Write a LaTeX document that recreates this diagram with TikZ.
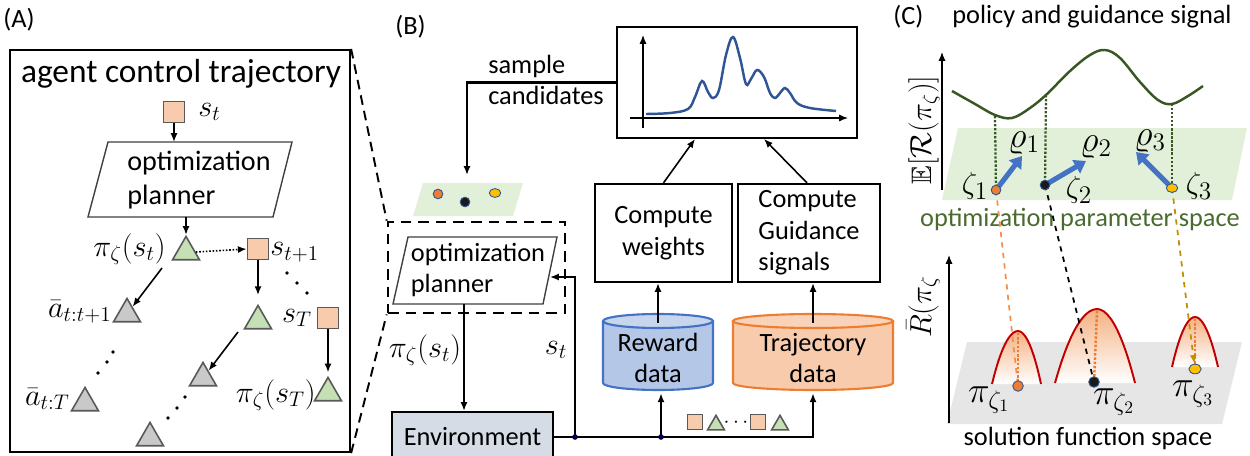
\documentclass[tikz,border=0pt]{standalone}
\usepackage{fontspec}
\usepackage{amssymb}
\setmainfont{Carlito}
\usetikzlibrary{arrows.meta,shapes.geometric,calc}
\definecolor{sqfill}{HTML}{F8CBAD}
\definecolor{sqdraw}{HTML}{595959}
\definecolor{trigreen}{HTML}{C5E0B4}
\definecolor{trigray}{HTML}{C9C9C9}
\definecolor{paramgreen}{HTML}{E2F0D9}
\definecolor{envfill}{HTML}{D6DCE5}
\definecolor{plotblue}{HTML}{2F5597}
\definecolor{rewfill}{HTML}{B4C7E7}
\definecolor{rewdraw}{HTML}{4472C4}
\definecolor{trajfill}{HTML}{F8CBAD}
\definecolor{trajdraw}{HTML}{ED7D31}
\definecolor{darkgreen}{HTML}{385723}
\definecolor{txtgreen}{HTML}{4A6B30}
\definecolor{dotorange}{HTML}{ED7D31}
\definecolor{dotyellow}{HTML}{FFC000}
\definecolor{dotblack}{HTML}{1A1A1A}
\definecolor{arrblue}{HTML}{4472C4}
\definecolor{bellred}{HTML}{C00000}
\definecolor{bellfill}{HTML}{F4B183}
\definecolor{planegray}{HTML}{E7E6E6}
\definecolor{yellowdash}{HTML}{BF9000}
\definecolor{outl}{HTML}{2F5597}
\begin{document}
\begin{tikzpicture}[x=0.02cm,y=-0.02cm,
  >={Latex[length=5pt,width=4pt]},
  every node/.style={inner sep=0pt},
  tB/.style={font=\fontsize{15}{18}\selectfont},
  tA/.style={font=\fontsize{16}{19.8}\selectfont},
  mA/.style={font=\fontsize{17}{20}\selectfont},
  mC/.style={font=\fontsize{19}{20}\selectfont},
  mP/.style={font=\fontsize{20}{22}\selectfont},
  sqA/.style={draw=sqdraw, fill=sqfill, minimum size=12pt, line width=0.9pt},
  sqS/.style={draw=sqdraw, fill=sqfill, minimum size=8.5pt, line width=0.9pt},
  triA/.style={regular polygon, regular polygon sides=3, draw=sqdraw, line width=0.9pt, minimum size=17.7pt},
  triS/.style={regular polygon, regular polygon sides=3, draw=sqdraw, line width=0.9pt, minimum size=11pt, fill=trigreen},
  triG/.style={triA, fill=trigreen},
  triY/.style={triA, fill=trigray},
  conn/.style={line width=0.9pt},
  box/.style={draw, line width=1.3pt},
  pgon/.style={draw=black!75, line width=0.8pt, fill=white},
  dotO/.style={circle, minimum size=5.5pt, fill=dotorange, draw=outl, line width=0.5pt},
  dotK/.style={circle, minimum size=5.5pt, fill=dotblack, draw=outl, line width=0.5pt},
  dotY/.style={ellipse, minimum width=6.5pt, minimum height=5pt, fill=dotyellow, draw=outl, line width=0.5pt},
  sdot/.style={circle, fill=black, minimum size=2.2pt},
  jdot/.style={circle, fill=black!70!blue, minimum size=3.2pt},
  blarrow/.style={draw=arrblue, line width=2.9pt, -{Triangle[length=6.5pt,width=8.5pt]}},
]
\useasboundingbox (0,0) rectangle (1250,456);

% ================= Panel A =================
\node[tB, anchor=west] (labA) at (3,20) {(A)};
\node[box, minimum width=6.8cm, minimum height=8.04cm] (boxA) at (180,251) {};
\node[font=\fontsize{19}{22}\selectfont] (titA) at (181,74) {agent control trajectory};
\node[sqA] (st) at (174,112) {};
\node[mA, anchor=west] (stl) at (198,112) {$s_t$};
\draw[pgon] (108,142) -- (292,142) -- (273,217) -- (88,217) -- cycle;
\node[tA, align=left] (plA) at (199,180) {optimization\\planner};
\coordinate (plAin) at (174,142);
\coordinate (plAout) at (186,217);
\draw[->,conn] (st) -- (plAin);
\node[triG] (a1) at (186,252) {};
\draw[->,conn] (plAout) -- (a1.north);
\node[mA, anchor=east] (pia1) at (166,249) {$\pi_\zeta(s_t)$};
\node[sqA] (st1) at (258,249) {};
\draw[->,densely dotted,conn] (a1.east) -- (st1.west);
\node[mA, anchor=west] (st1l) at (270,252) {$s_{t+1}$};
\node[sdot] (d1) at (287,273) {};
\node[sdot] (d2) at (297,283) {};
\node[sdot] (d3) at (307,293) {};
\node[triY] (g1) at (127,314) {};
\node[mA, anchor=east] (g1l) at (112,312) {$\bar{a}_{t:t+1}$};
\coordinate (g1s) at (162,268);
\draw[->,conn] (g1s) -- (g1);
\node[triG] (a2) at (258,321) {};
\draw[->,conn,shorten >=5pt] (st1) -- (a2);
\node[mA] (sTl) at (297,318) {$s_T$};
\node[sqA] (sT) at (328,318) {};
\node[triG] (aT) at (328,393) {};
\draw[->,conn,shorten >=2pt] (sT) -- (aT);
\node[mA, anchor=east] (aTl) at (316,395) {$\pi_\zeta(s_T)$};
\node[triY] (g2) at (203,378) {};
\coordinate (a2s) at (238,332);
\draw[->,conn] (a2s) -- (g2);
\node[sdot] (d4) at (185,397) {};
\node[sdot] (d5) at (177,408) {};
\node[sdot] (d6) at (168,418) {};
\node[triY] (g3) at (150,438) {};
\node[triY] (g4) at (85,403) {};
\node[mA, anchor=east] (g4l) at (70,399) {$\bar{a}_{t:T}$};
\node[sdot] (d7) at (113,352) {};
\node[sdot] (d8) at (107,362) {};
\node[sdot] (d9) at (98,373) {};

% ================= Panel B =================
\node[tB, anchor=west] (labB) at (395,27) {(B)};
\node[draw, dashed, dash pattern=on 6pt off 4pt, line width=1.5pt, minimum width=3.54cm, minimum height=1.82cm] (dbox) at (476.5,267.5) {};
\draw[dashed, dash pattern=on 5.5pt off 3.5pt, line width=1.1pt] (boxA.north east) -- (dbox.north west);
\draw[dashed, dash pattern=on 5.5pt off 3.5pt, line width=1.1pt] (boxA.south east) -- (dbox.south west);

\node[box, minimum width=4.8cm, minimum height=2.22cm] (plot) at (737,82.5) {};
\coordinate (ax0) at (643,128); \coordinate (ax1) at (643,35);
\coordinate (ay0) at (630,118); \coordinate (ay1) at (848,118);
\draw[->, line width=0.7pt] (ax0) -- (ax1);
\draw[->, line width=0.7pt] (ay0) -- (ay1);
\draw[plotblue, line width=1.4pt] plot[smooth, tension=0.6] coordinates {
 (646,114) (670,113) (688,109) (695,97) (702,81) (708,92) (713,98) (719,90)
 (726,55) (733,37) (740,58) (746,84) (751,79) (757,70) (764,77) (770,93) (775,98)
 (780,93) (785,88) (790,93) (797,103) (810,108) (836,111)};

\node[tB, align=left] (samp) at (546,80) {sample\\candidates};
\coordinate (candin) at (467,175);
\draw[->, line width=1.2pt] (plot.west) -| (candin);
\fill[paramgreen] (423,183) -- (523,183) -- (513,216) -- (413,216) -- cycle;
\node[dotO] (c1) at (438,194) {};
\node[dotK] (c2) at (465,202) {};
\node[dotY] (c3) at (495,193) {};

\draw[pgon] (408,237) -- (557,237) -- (543,304) -- (393,304) -- cycle;
\node[tB, align=left] (plB) at (478,270) {optimization\\planner};
\coordinate (plBout) at (464,304);
\coordinate (plBin) at (550,277);
\node[draw, line width=1.3pt, fill=envfill, minimum width=3.22cm, minimum height=1.0cm, tB] (env) at (472.5,437) {Environment};
\draw[->, conn] (plBout) -- (plBout |- env.north);
\node[font=\fontsize{18}{20}\selectfont] (piB) at (425,350) {$\pi_\zeta(s_t)$};
\node[font=\fontsize{18}{20}\selectfont] (stB) at (556,350) {$s_t$};

% cylinders
\fill[rewfill] (603,321) rectangle (713,383);
\fill[rewfill] (658,383) ellipse [x radius=1.1cm, y radius=0.14cm];
\draw[rewdraw, line width=1.2pt] (603,321) -- (603,383) arc[start angle=180, end angle=360, x radius=1.1cm, y radius=0.14cm] -- (713,321);
\draw[rewdraw, fill=rewfill!75!white, line width=1.2pt] (658,321) ellipse [x radius=1.1cm, y radius=0.14cm];
\fill[trajfill] (733,321) rectangle (893,383);
\fill[trajfill] (813,383) ellipse [x radius=1.6cm, y radius=0.14cm];
\draw[trajdraw, line width=1.2pt] (733,321) -- (733,383) arc[start angle=180, end angle=360, x radius=1.6cm, y radius=0.14cm] -- (893,321);
\draw[trajdraw, fill=trajfill!85!white, line width=1.2pt] (813,321) ellipse [x radius=1.6cm, y radius=0.14cm];
\node[tB, align=center, minimum width=2.2cm, minimum height=1.4cm] (rew) at (658,358) {Reward\\data};
\node[tB, align=center, minimum width=3.2cm, minimum height=1.4cm] (traj) at (813,358) {Trajectory\\data};

\node[box, tB, align=center, minimum width=2.74cm, minimum height=1.96cm] (cw) at (663.5,233) {Compute\\weights};
\node[box, tB, align=left, minimum width=2.84cm, minimum height=1.96cm] (cg) at (809,233) {Compute\\Guidance\\signals};
\draw[->, conn] (rew.north) -- (rew.north |- cw.south);
\draw[->, conn] (traj.north) -- (traj.north |- cg.south);
\coordinate (pin1) at (695,139);
\coordinate (pin2) at (764,139);
\draw[->, conn] (cw.north) -- (pin1);
\draw[->, conn] ($(cg.north)+(-2,0)$) -- (pin2);

\coordinate (j1) at (575,437);
\coordinate (j2) at (661,437);
\draw[->, conn] (env.east) -| (traj.south);
\draw[->, conn] (j1) |- (plBin);
\draw[->, conn] (j2) -- (j2 |- rew.south);
\node[jdot] at (j1) {};
\node[jdot] at (j2) {};

\node[sqS] (i1) at (695,422) {};
\node[triS] (i2) at (716,425) {};
\node[font=\fontsize{12}{12}\selectfont] (i3) at (736,423) {$\cdots$};
\node[sqS] (i4) at (758,422) {};
\node[triS] (i5) at (780,425) {};

% ================= Panel C =================
\node[tB, anchor=west] (labC) at (893,17) {(C)};
\node[tB] (titC) at (1092,17) {policy and guidance signal};
\fill[paramgreen] (958,128) -- (1247,128) -- (1232,200) -- (942,200) -- cycle;
\coordinate (cax0) at (942,190); \coordinate (cax1) at (942,52);
\draw[->, line width=0.7pt] (cax0) -- (cax1);
\node[rotate=90, font=\fontsize{16}{18}\selectfont] (eR) at (924,130) {$\mathbb{E}[\mathcal{R}(\pi_\zeta)]$};
\draw[darkgreen, line width=1.4pt] plot[smooth, tension=0.6] coordinates {
 (952,91) (975,104) (995,115) (1012,118) (1030,108) (1047,94) (1070,71) (1090,55)
 (1105,50) (1120,58) (1140,82) (1158,100) (1172,104) (1188,96) (1203,86)};
\coordinate (v1) at (995,116);
\coordinate (v2) at (1046,95);
\coordinate (v3) at (1172,104);
\coordinate (z1) at (996,190);
\coordinate (z2) at (1045,185);
\coordinate (z3) at (1172,188);
\draw[darkgreen, densely dotted, line width=1.3pt] (v1) -- (z1);
\draw[darkgreen, densely dotted, line width=1.3pt] (v2) -- (z2);
\draw[darkgreen, densely dotted, line width=1.3pt] (v3) -- (z3);
\coordinate (r1) at (1022,156);
\coordinate (r2) at (1086,161);
\coordinate (r3) at (1136,152);
\draw[blarrow] (z1) -- (r1);
\draw[blarrow] (z2) -- (r2);
\draw[blarrow] (z3) -- (r3);
\node[tB, text=txtgreen] (ops) at (1080,220) {optimization parameter space};

\fill[planegray] (967,342) -- (1242,342) -- (1222,424) -- (947,424) -- cycle;
\coordinate (cbx0) at (949,423); \coordinate (cbx1) at (949,255);
\draw[->, line width=0.7pt] (cbx0) -- (cbx1);
\node[rotate=90, font=\fontsize{18}{20}\selectfont] (Rb) at (923,307) {$\bar{R}(\pi_\zeta$};

\shade[top color=bellfill, bottom color=white] (992,384) parabola bend (1018,331) (1041,384) -- cycle;
\draw[bellred, line width=1.1pt] (992,384) parabola bend (1018,331) (1041,384);
\shade[top color=bellfill, bottom color=white] (1055,383) parabola bend (1097,309) (1135,383) -- cycle;
\draw[bellred, line width=1.1pt] (1055,383) parabola bend (1097,309) (1135,383);
\shade[top color=bellfill, bottom color=white] (1172,367) parabola bend (1195,317) (1218,367) -- cycle;
\draw[bellred, line width=1.1pt] (1172,367) parabola bend (1195,317) (1218,367);

\coordinate (b1) at (1018,333);
\coordinate (b2) at (1097,311);
\coordinate (b3) at (1195,319);
\coordinate (p1) at (1018,386);
\coordinate (p2) at (1094,382);
\coordinate (p3) at (1195,369);
\draw[dotorange, densely dotted, line width=1.4pt] (b1) -- (p1);
\draw[dotorange, densely dotted, line width=1.4pt] (b2) -- (p2);
\draw[dotorange, densely dotted, line width=1.4pt] (b3) -- (p3);
\draw[dotorange!85!white, dashed, line width=1pt] (z1) -- (p1);
\draw[black, dashed, line width=1pt] (z2) -- (p2);
\draw[yellowdash, dashed, line width=1pt, ->, shorten >=3pt] (z3) -- (p3);

\node[dotO] (zd1) at (z1) {};
\node[dotK] (zd2) at (z2) {};
\node[dotY] (zd3) at (z3) {};
\node[dotO, minimum size=6pt] (pd1) at (p1) {};
\node[dotK, minimum size=6pt] (pd2) at (p2) {};
\node[dotY, minimum width=7pt, minimum height=5.5pt] (pd3) at (p3) {};

\node[mC] (z1l) at (975,186) {$\zeta_1$};
\node[mC] (z2l) at (1079,190) {$\zeta_2$};
\node[mC] (z3l) at (1199,186) {$\zeta_3$};
\node[font=\fontsize{22}{24}\selectfont] (rho1) at (1024,143) {$\varrho_1$};
\node[font=\fontsize{22}{24}\selectfont] (rho2) at (1096,147) {$\varrho_2$};
\node[font=\fontsize{22}{24}\selectfont] (rho3) at (1150,141) {$\varrho_3$};
\node[mP] (pz1) at (989,400) {$\pi_{\zeta_1}$};
\node[mP] (pz2) at (1114,402) {$\pi_{\zeta_2}$};
\node[mP] (pz3) at (1193,394) {$\pi_{\zeta_3}$};
\node[tB] (sfs) at (1088,438) {solution function space};
\end{tikzpicture}
\end{document}
